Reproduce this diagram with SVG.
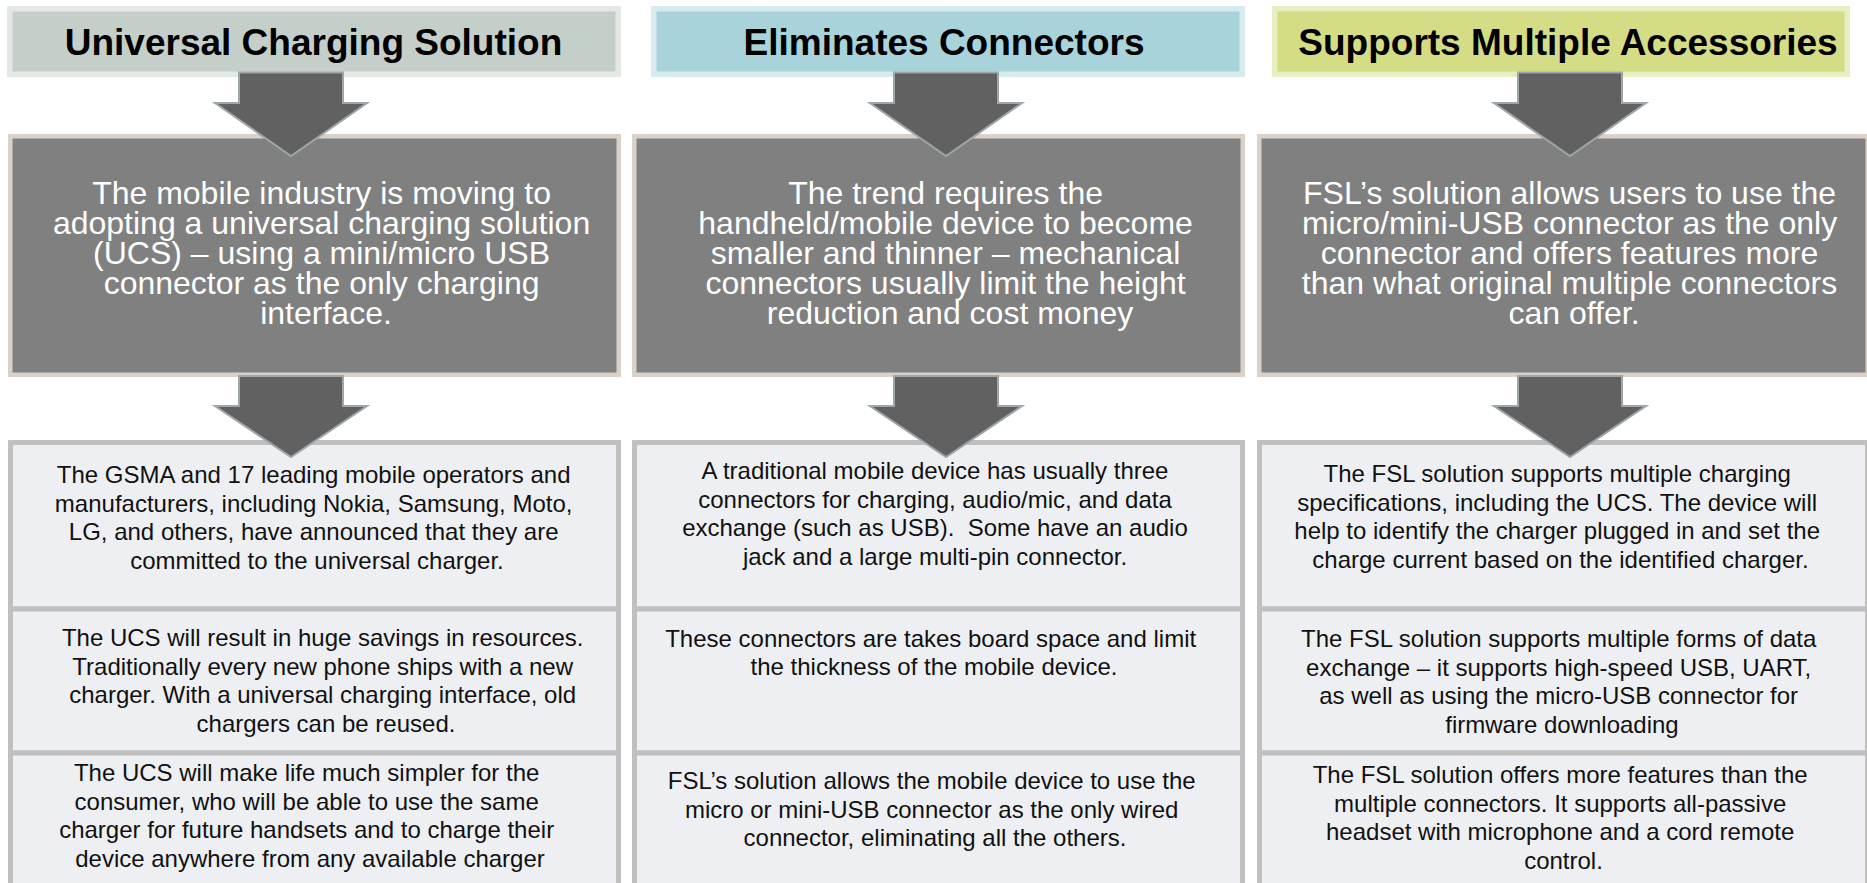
<svg xmlns="http://www.w3.org/2000/svg" width="1867" height="883" viewBox="0 0 1867 883">
  <style>
    .title { font-family: "Liberation Sans", Arial, sans-serif; font-size: 37px; font-weight: bold; fill: #000; text-anchor: middle; }
    .t1 { fill: #c5cfca; stroke: #e3e8e5; stroke-width: 5.5; }
    .t2 { fill: #a9d3da; stroke: #d6ebee; stroke-width: 5.5; }
    .t3 { fill: #d4dc86; stroke: #e8edc2; stroke-width: 5.5; }
    .summary { fill: #808080; stroke: #dad2c8; stroke-width: 4.5; }
    .summary-text { font-family: "Liberation Sans", Arial, sans-serif; font-size: 32px; fill: #fff; text-anchor: middle; }
    .cell { fill: #eeeff3; stroke: #c0c0c0; stroke-width: 5; }
    .cell-text { font-family: "Liberation Sans", Arial, sans-serif; font-size: 24px; fill: #111; text-anchor: middle; }
    .arrow { fill: #616161; stroke: #9ca6ab; stroke-width: 2; stroke-linejoin: miter; }
  </style>

  <rect width="1867" height="883" fill="#fff"/>

  <!-- Column headings -->
  <g id="heading-ucs">
    <rect class="t1" x="9.75" y="8.75" width="608.5" height="65.5"/>
    <text class="title" x="313.5" y="55">Universal Charging Solution</text>
  </g>
  <g id="heading-connectors">
    <rect class="t2" x="653.75" y="8.75" width="588.5" height="65.5"/>
    <text class="title" x="944" y="55">Eliminates Connectors</text>
  </g>
  <g id="heading-accessories">
    <rect class="t3" x="1274.75" y="8.75" width="572.5" height="65.5"/>
    <text class="title" x="1568" y="55">Supports Multiple Accessories</text>
  </g>

  <!-- Summary boxes -->
  <g id="summary-ucs">
    <rect class="summary" x="10.25" y="136.25" width="608.5" height="238.5"/>
    <text class="summary-text">
      <tspan x="326" y="204">The mobile industry is moving to</tspan>
      <tspan x="326" y="234">adopting a universal charging solution</tspan>
      <tspan x="326" y="264">(UCS) – using a mini/micro USB</tspan>
      <tspan x="326" y="294">connector as the only charging</tspan>
      <tspan x="326" y="324">interface.</tspan>
    </text>
  </g>
  <g id="summary-connectors">
    <rect class="summary" x="634.25" y="136.25" width="608.5" height="238.5"/>
    <text class="summary-text">
      <tspan x="950" y="204">The trend requires the</tspan>
      <tspan x="950" y="234">handheld/mobile device to become</tspan>
      <tspan x="950" y="264">smaller and thinner – mechanical</tspan>
      <tspan x="950" y="294">connectors usually limit the height</tspan>
      <tspan x="950" y="324">reduction and cost money</tspan>
    </text>
  </g>
  <g id="summary-accessories">
    <rect class="summary" x="1259.25" y="136.25" width="608.5" height="238.5"/>
    <text class="summary-text">
      <tspan x="1574" y="204">FSL’s solution allows users to use the</tspan>
      <tspan x="1574" y="234">micro/mini-USB connector as the only</tspan>
      <tspan x="1574" y="264">connector and offers features more</tspan>
      <tspan x="1574" y="294">than what original multiple connectors</tspan>
      <tspan x="1574" y="324">can offer.</tspan>
    </text>
  </g>

  <!-- Detail cells, column 1 -->
  <g id="ucs-operators">
    <rect class="cell" x="10.5" y="442.5" width="608" height="166.5"/>
    <text class="cell-text">
      <tspan x="317" y="483">The GSMA and 17 leading mobile operators and</tspan>
      <tspan x="317" y="511.5">manufacturers, including Nokia, Samsung, Moto,</tspan>
      <tspan x="317" y="540">LG, and others, have announced that they are</tspan>
      <tspan x="317" y="568.5">committed to the universal charger.</tspan>
    </text>
  </g>
  <g id="ucs-savings">
    <rect class="cell" x="10.5" y="609" width="608" height="144"/>
    <text class="cell-text">
      <tspan x="326" y="646">The UCS will result in huge savings in resources.</tspan>
      <tspan x="326" y="674.5">Traditionally every new phone ships with a new</tspan>
      <tspan x="326" y="703">charger. With a universal charging interface, old</tspan>
      <tspan x="326" y="731.5">chargers can be reused.</tspan>
    </text>
  </g>
  <g id="ucs-consumer">
    <rect class="cell" x="10.5" y="753" width="608" height="150"/>
    <text class="cell-text">
      <tspan x="310" y="781">The UCS will make life much simpler for the</tspan>
      <tspan x="310" y="809.5">consumer, who will be able to use the same</tspan>
      <tspan x="310" y="838">charger for future handsets and to charge their</tspan>
      <tspan x="310" y="866.5">device anywhere from any available charger</tspan>
    </text>
  </g>

  <!-- Detail cells, column 2 -->
  <g id="conn-traditional">
    <rect class="cell" x="634.5" y="442.5" width="608" height="166.5"/>
    <text class="cell-text" xml:space="preserve"><tspan x="935" y="479">A traditional mobile device has usually three</tspan><tspan x="935" y="507.5">connectors for charging, audio/mic, and data</tspan><tspan x="935" y="536">exchange (such as USB).  Some have an audio</tspan><tspan x="935" y="564.5">jack and a large multi-pin connector.</tspan></text>
  </g>
  <g id="conn-space">
    <rect class="cell" x="634.5" y="609" width="608" height="144"/>
    <text class="cell-text">
      <tspan x="934" y="646.5">These connectors are takes board space and limit</tspan>
      <tspan x="934" y="675">the thickness of the mobile device.</tspan>
    </text>
  </g>
  <g id="conn-single">
    <rect class="cell" x="634.5" y="753" width="608" height="150"/>
    <text class="cell-text">
      <tspan x="935" y="789">FSL’s solution allows the mobile device to use the</tspan>
      <tspan x="935" y="817.5">micro or mini-USB connector as the only wired</tspan>
      <tspan x="935" y="846">connector, eliminating all the others.</tspan>
    </text>
  </g>

  <!-- Detail cells, column 3 -->
  <g id="acc-charging">
    <rect class="cell" x="1259.5" y="442.5" width="608" height="166.5"/>
    <text class="cell-text">
      <tspan x="1560.5" y="482">The FSL solution supports multiple charging</tspan>
      <tspan x="1560.5" y="510.5">specifications, including the UCS. The device will</tspan>
      <tspan x="1560.5" y="539">help to identify the charger plugged in and set the</tspan>
      <tspan x="1560.5" y="567.5">charge current based on the identified charger.</tspan>
    </text>
  </g>
  <g id="acc-data">
    <rect class="cell" x="1259.5" y="609" width="608" height="144"/>
    <text class="cell-text">
      <tspan x="1562" y="647">The FSL solution supports multiple forms of data</tspan>
      <tspan x="1562" y="675.5">exchange – it supports high-speed USB, UART,</tspan>
      <tspan x="1562" y="704">as well as using the micro-USB connector for</tspan>
      <tspan x="1562" y="732.5">firmware downloading</tspan>
    </text>
  </g>
  <g id="acc-headset">
    <rect class="cell" x="1259.5" y="753" width="608" height="150"/>
    <text class="cell-text">
      <tspan x="1563.5" y="783">The FSL solution offers more features than the</tspan>
      <tspan x="1563.5" y="811.5">multiple connectors. It supports all-passive</tspan>
      <tspan x="1563.5" y="840">headset with microphone and a cord remote</tspan>
      <tspan x="1563.5" y="868.5">control.</tspan>
    </text>
  </g>

  <!-- Block arrows between the stages -->
  <g id="connectors">
    <polygon class="arrow" points="239,72.5 343,72.5 343,103 367,103 291,156 215,103 239,103"/>
    <polygon class="arrow" points="894,72.5 998,72.5 998,103 1022,103 946,156 870,103 894,103"/>
    <polygon class="arrow" points="1518,72.5 1622,72.5 1622,103 1646,103 1570,156 1494,103 1518,103"/>
    <polygon class="arrow" points="239,376 343,376 343,406 367,406 291,457 215,406 239,406"/>
    <polygon class="arrow" points="894,376 998,376 998,406 1022,406 946,457 870,406 894,406"/>
    <polygon class="arrow" points="1518,376 1622,376 1622,406 1646,406 1570,457 1494,406 1518,406"/>
  </g>
</svg>
